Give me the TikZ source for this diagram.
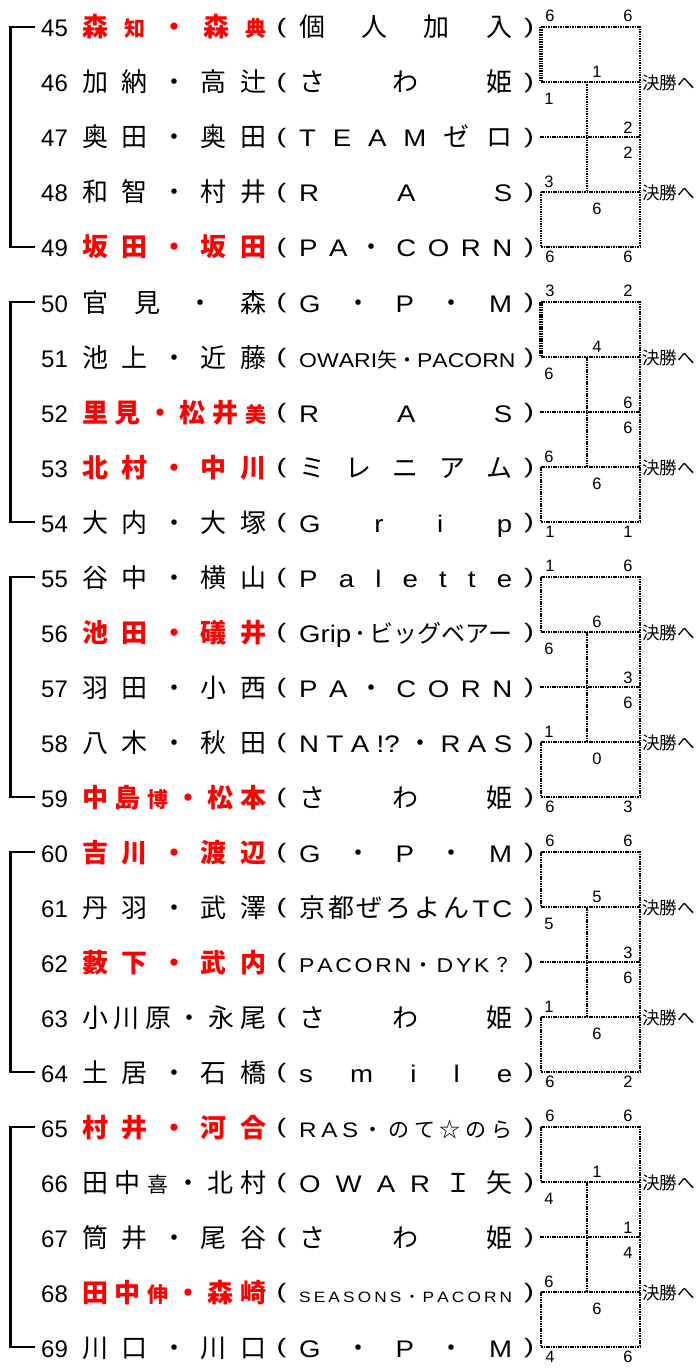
\documentclass[tikz,border=0pt]{standalone}
\usepackage{fontspec}
\setmainfont{Liberation Sans}
\newfontfamily\jp{Noto Sans CJK JP}
\newfontfamily\wideL[FakeStretch=1.15]{Liberation Sans}
\newcommand\J{\jp\fontsize{26pt}{26pt}\selectfont}
\newcommand\JS{\fontsize{21pt}{21pt}\selectfont}
\newcommand\hf{\hfill}
\tikzset{
 numst/.style={anchor=base west, inner sep=0pt, font=\fontsize{24pt}{24pt}\selectfont},
 namest/.style={anchor=base west, inner sep=0pt, font=\jp\fontsize{26pt}{26pt}\selectfont},
 rednm/.style={text=red, font=\jp\bfseries\fontsize{26pt}{26pt}\selectfont},
 teamst/.style={anchor=base west, inner sep=0pt, font=\wideL\fontsize{24pt}{24pt}\selectfont},
 parst/.style={anchor=base west, inner sep=0pt, font=\fontsize{21pt}{21pt}\selectfont},
 score/.style={inner sep=0pt, font=\fontsize{16.5pt}{16.5pt}\selectfont},
 final/.style={anchor=base west, inner sep=0pt, font=\jp\fontsize{17.5pt}{17.5pt}\selectfont},
 brk/.style={line width=2.4pt},
 dots/.style={line width=1.6pt, dash pattern=on 1.5pt off 0.9pt},
}
\newcommand\entry[5]{%
  \pgfmathsetmacro\yb{37+55*#1}
  \pgfmathsetmacro\yp{33.5+55*#1}
  \node[numst] (n#2) at (41,\yb) {#2};
  \node[namest,#3] (nm#2) at (82,\yb) {\makebox[184pt][s]{#4}};
  \node[parst] (lp#2) at (276.5,\yp) {\scalebox{1.4}[1]{(}};
  \node[teamst] (tm#2) at (299,\yb) {\makebox[213pt][s]{#5}};
  \node[parst] (rp#2) at (524,\yp) {\scalebox{1.4}[1]{)}};
}
\begin{document}
\begin{tikzpicture}[x=1pt,y=-1pt]
\fill[white] (0,0) rectangle (698,1372);
\useasboundingbox (0,0) rectangle (698,1372);

\entry{0}{45}{rednm}{森\hf {\JS 知}\hf {・}\hf {森}\hf {\JS 典}}{\J 個\hf {人}\hf {加}\hf {入}}
\entry{1}{46}{}{加\hf {納}\hf {・}\hf {高}\hf {辻}}{\J さ\hf {わ}\hf {姫}}
\entry{2}{47}{}{奥\hf {田}\hf {・}\hf {奥}\hf {田}}{T\hf E\hf A\hf M\hf {\J ゼ}\hf {\J ロ}}
\entry{3}{48}{}{和\hf {智}\hf {・}\hf {村}\hf {井}}{R\hf A\hf S}
\entry{4}{49}{rednm}{坂\hf {田}\hf {・}\hf {坂}\hf {田}}{P\hf A\hf {\J ・}\hf C\hf O\hf R\hf N}
\entry{5}{50}{}{官\hf {見}\hf {・}\hf {森}}{G\hf {\J ・}\hf P\hf {\J ・}\hf M}
\entry{6}{51}{}{池\hf {上}\hf {・}\hf {近}\hf {藤}}{\fontsize{20pt}{20pt}\selectfont O\hf W\hf A\hf R\hf I\hf {\jp 矢}\hf {\jp ・}\hf P\hf A\hf C\hf O\hf R\hf N}
\entry{7}{52}{rednm}{里\hf {見}\hf {・}\hf {松}\hf {井}\hf {\JS 美}}{R\hf A\hf S}
\entry{8}{53}{rednm}{北\hf {村}\hf {・}\hf {中}\hf {川}}{\J ミ\hf {レ}\hf {ニ}\hf {ア}\hf {ム}}
\entry{9}{54}{}{大\hf {内}\hf {・}\hf {大}\hf {塚}}{G\hf r\hf i\hf p}
\entry{10}{55}{}{谷\hf {中}\hf {・}\hf {横}\hf {山}}{P\hf a\hf l\hf e\hf t\hf t\hf e}
\entry{11}{56}{rednm}{池\hf {田}\hf {・}\hf {礒}\hf {井}}{Grip\hf {\jp ･}\hf {\jp ビッグベアー}}
\entry{12}{57}{}{羽\hf {田}\hf {・}\hf {小}\hf {西}}{P\hf A\hf {\J ・}\hf C\hf O\hf R\hf N}
\entry{13}{58}{}{八\hf {木}\hf {・}\hf {秋}\hf {田}}{N\hf T\hf A\hf {!?}\hf {\J ・}\hf R\hf A\hf S}
\entry{14}{59}{rednm}{中\hf {島}\hf {\JS 博}\hf {・}\hf {松}\hf {本}}{\J さ\hf {わ}\hf {姫}}
\entry{15}{60}{rednm}{吉\hf {川}\hf {・}\hf {渡}\hf {辺}}{G\hf {\J ・}\hf P\hf {\J ・}\hf M}
\entry{16}{61}{}{丹\hf {羽}\hf {・}\hf {武}\hf {澤}}{{\J 京}\hf {\J 都}\hf {\J ぜ}\hf {\J ろ}\hf {\J よ}\hf {\J ん}\hf T\hf C}
\entry{17}{62}{rednm}{藪\hf {下}\hf {・}\hf {武}\hf {内}}{\fontsize{20pt}{20pt}\selectfont P\hf A\hf C\hf O\hf R\hf N\hf {\jp ・}\hf D\hf Y\hf K\hf {\jp ？}}
\entry{18}{63}{}{小\hf {川}\hf {原}\hf {・}\hf {永}\hf {尾}}{\J さ\hf {わ}\hf {姫}}
\entry{19}{64}{}{土\hf {居}\hf {・}\hf {石}\hf {橋}}{s\hf m\hf i\hf l\hf e}
\entry{20}{65}{rednm}{村\hf {井}\hf {・}\hf {河}\hf {合}}{\fontsize{21pt}{21pt}\selectfont R\hf A\hf S\hf {\jp ・}\hf {\jp の}\hf {\jp て}\hf {\jp ☆}\hf {\jp の}\hf {\jp ら}}
\entry{21}{66}{}{田\hf {中}\hf {\JS 喜}\hf {・}\hf {北}\hf {村}}{O\hf W\hf A\hf R\hf {\J Ｉ}\hf {\J 矢}}
\entry{22}{67}{}{筒\hf {井}\hf {・}\hf {尾}\hf {谷}}{\J さ\hf {わ}\hf {姫}}
\entry{23}{68}{rednm}{田\hf {中}\hf {\JS 伸}\hf {・}\hf {森}\hf {崎}}{\fontsize{15pt}{15pt}\selectfont S\hf E\hf A\hf S\hf O\hf N\hf S\hf {\jp ・}\hf P\hf A\hf C\hf O\hf R\hf N}
\entry{24}{69}{}{川\hf {口}\hf {・}\hf {川}\hf {口}}{G\hf {\J ・}\hf P\hf {\J ・}\hf M}

\foreach \g/\tw/\scA/\scB/\scC/\scD/\scE/\scF/\scG/\scH/\scI/\scJ in {
 0/3.5/6/6/1/1/2/2/3/6/6/6,
 1/3.5/3/2/4/6/6/6/6/6/1/1,
 2/1.6/1/6/6/6/3/6/1/0/6/3,
 3/1.6/6/6/5/5/3/6/1/6/6/2,
 4/1.6/6/6/1/4/1/4/6/6/4/6}{
 \pgfmathsetmacro\yo{27+275*\g}
 \coordinate (LA\g) at (35,\yo);
 \coordinate (LB\g) at (10.5,\yo);
 \coordinate (LC\g) at (10.5,\yo+220);
 \coordinate (LD\g) at (35,\yo+220);
 \draw[brk] (LA\g) -- (LB\g) -- (LC\g) -- (LD\g);
 \coordinate (A\g) at (541,\yo);
 \coordinate (B\g) at (640,\yo);
 \coordinate (C\g) at (541,\yo+55);
 \coordinate (D\g) at (640,\yo+55);
 \coordinate (E\g) at (540,\yo+110);
 \coordinate (F\g) at (640,\yo+110);
 \coordinate (G\g) at (541,\yo+165);
 \coordinate (H\g) at (640,\yo+165);
 \coordinate (I\g) at (541,\yo+220);
 \coordinate (K\g) at (640,\yo+220);
 \coordinate (M\g) at (587,\yo+55);
 \coordinate (N\g) at (587,\yo+165);
 \draw[dots] (A\g) -- (B\g) -- (K\g);
 \draw[dots, line width=\tw pt] (A\g) -- (C\g);
 \draw[dots] (C\g) -- (D\g);
 \draw[dots] (E\g) -- (F\g);
 \draw[dots] (G\g) -- (H\g);
 \draw[dots] (G\g) -- (I\g) -- (K\g);
 \draw[dots] (M\g) -- (N\g);
 \node[score] (sa\g) at (550,\yo-11) {\scA};
 \node[score] (sb\g) at (628,\yo-11) {\scB};
 \node[score] (sc\g) at (597,\yo+45) {\scC};
 \node[score] (sd\g) at (549,\yo+72) {\scD};
 \node[score] (se\g) at (628,\yo+100.5) {\scE};
 \node[score] (sf\g) at (628,\yo+126) {\scF};
 \node[score] (sg\g) at (549,\yo+155) {\scG};
 \node[score] (sh\g) at (597,\yo+182) {\scH};
 \node[score] (si\g) at (550,\yo+230) {\scI};
 \node[score] (sj\g) at (628,\yo+230) {\scJ};
 \node[final] (fa\g) at (642,\yo+62.5) {決勝へ};
 \node[final] (fb\g) at (642,\yo+172.5) {決勝へ};
}
\end{tikzpicture}
\end{document}
